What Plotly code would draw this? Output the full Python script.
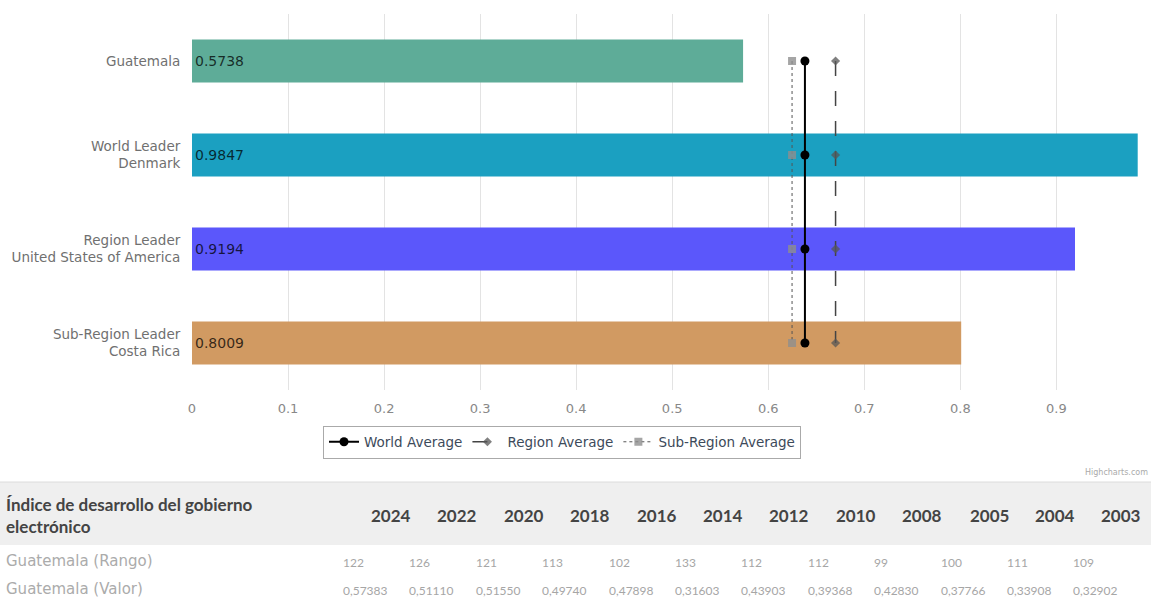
import plotly.graph_objects as go

# ---- data ----
categories = ["Guatemala", "World Leader<br>Denmark", "Region Leader<br>United States of America",
              "Sub-Region Leader<br>Costa Rica"]
bar_values = [0.5738, 0.9847, 0.9194, 0.8009]
bar_colors = ["#5eac98", "#1ba0c1", "#5b57fb", "#d19a62"]

world_avg = [0.6382, 0.6382, 0.6382, 0.6382]
region_avg = [0.6701, 0.6701, 0.6701, 0.6701]
subregion_avg = [0.6248, 0.6248, 0.6248, 0.6248]

table_title = "Índice de desarrollo del gobierno<br>electrónico"
years = ["2024", "2022", "2020", "2018", "2016", "2014", "2012", "2010", "2008", "2005", "2004", "2003"]
rank_label = "Guatemala (Rango)"
ranks = ["122", "126", "121", "113", "102", "133", "112", "112", "99", "100", "111", "109"]
value_label = "Guatemala (Valor)"
values = ["0,57383", "0,51110", "0,51550", "0,49740", "0,47898", "0,31603", "0,43903",
          "0,39368", "0,42830", "0,37766", "0,33908", "0,32902"]

# ---- geometry helpers (pixel -> paper) ----
L, R, T, B = 192, 1138, 14, 390
W, H = 1151, 609


def px_x(px):
    return (px - L) / (R - L)


def px_y(py):
    return (B - py) / (B - T)


fig = go.Figure()

fig.add_trace(go.Bar(
    y=categories, x=bar_values, orientation="h",
    marker=dict(color=bar_colors, line=dict(width=0)),
    width=0.46,
    text=[f"{v:.4f}" for v in bar_values],
    textposition="inside", insidetextanchor="start",
    textfont=dict(family="DejaVu Sans", size=14, color="rgba(0,0,0,0.75)"),
    showlegend=False, hoverinfo="skip", cliponaxis=False,
))

fig.add_trace(go.Scatter(
    y=categories, x=world_avg, mode="lines+markers", name="World Average",
    line=dict(color="#000000", width=2),
    marker=dict(symbol="circle", size=9, color="#000000"),
))
fig.add_trace(go.Scatter(
    y=categories, x=region_avg, mode="lines+markers", name="Region Average",
    line=dict(color="#444444", width=1.5, dash="longdash"),
    marker=dict(symbol="diamond", size=7, color="#555555", opacity=0.75),
))
fig.add_trace(go.Scatter(
    y=categories, x=subregion_avg, mode="lines+markers", name="Sub-Region Average",
    line=dict(color="#555555", width=1, dash="dot"),
    marker=dict(symbol="square", size=8, color="#8f8f8f", opacity=0.8),
))

shapes = []
annotations = []

# table header band
shapes.append(dict(type="rect", xref="paper", yref="paper",
                   x0=px_x(0), x1=px_x(W), y0=px_y(545), y1=px_y(482),
                   fillcolor="#efefef", line=dict(width=0), layer="below"))
shapes.append(dict(type="line", xref="paper", yref="paper",
                   x0=px_x(0), x1=px_x(W), y0=px_y(482), y1=px_y(482),
                   line=dict(color="#dcdcdc", width=1)))

annotations.append(dict(xref="paper", yref="paper", x=px_x(4), y=px_y(515),
                        text="<b>" + table_title + "</b>", showarrow=False,
                        xanchor="left", yanchor="middle", align="left",
                        font=dict(family="Lato", size=17, color="#444444")))

col0, col_step = 341, 66.4
for i, yr in enumerate(years):
    annotations.append(dict(xref="paper", yref="paper", x=px_x(413 + col_step * i), y=px_y(515),
                            text="<b>" + yr + "</b>", showarrow=False,
                            xanchor="right", yanchor="middle",
                            font=dict(family="Lato", size=17, color="#444444")))
    annotations.append(dict(xref="paper", yref="paper", x=px_x(col0 + col_step * i), y=px_y(562),
                            text=ranks[i], showarrow=False,
                            xanchor="left", yanchor="middle",
                            font=dict(family="Lato", size=12, color="#a6a6a6")))
    annotations.append(dict(xref="paper", yref="paper", x=px_x(col0 + col_step * i), y=px_y(590),
                            text=values[i], showarrow=False,
                            xanchor="left", yanchor="middle",
                            font=dict(family="Lato", size=12, color="#a6a6a6")))

annotations.append(dict(xref="paper", yref="paper", x=px_x(4), y=px_y(561),
                        text=rank_label, showarrow=False, xanchor="left", yanchor="middle",
                        font=dict(family="DejaVu Sans", size=15, color="#ababab")))
annotations.append(dict(xref="paper", yref="paper", x=px_x(4), y=px_y(589),
                        text=value_label, showarrow=False, xanchor="left", yanchor="middle",
                        font=dict(family="DejaVu Sans", size=15, color="#ababab")))

annotations.append(dict(xref="paper", yref="paper", x=px_x(1150), y=px_y(472),
                        text="Highcharts.com", showarrow=False, xanchor="right", yanchor="middle",
                        font=dict(family="DejaVu Sans", size=8, color="#aaaaaa")))

fig.update_layout(
    width=W, height=H,
    margin=dict(l=L, r=W - R, t=T, b=H - B),
    paper_bgcolor="white", plot_bgcolor="white",
    hovermode=False,
    xaxis=dict(range=[0, 0.985], dtick=0.1, tick0=0, showgrid=True, gridcolor="#e3e3e3",
               gridwidth=1, zeroline=False, showline=False,
               ticks="outside", ticklen=6, tickcolor="rgba(0,0,0,0)",
               tickfont=dict(family="DejaVu Sans", size=13, color="#888888")),
    yaxis=dict(categoryorder="array", categoryarray=categories, autorange="reversed",
               showgrid=False, zeroline=False, showline=False,
               ticks="outside", ticklen=8, tickcolor="rgba(0,0,0,0)",
               tickfont=dict(family="DejaVu Sans", size=13.5, color="#707070")),
    legend=dict(orientation="h", x=px_x(562), y=px_y(442), xanchor="center", yanchor="middle",
                bordercolor="#aaaaaa", borderwidth=1, bgcolor="white",
                font=dict(family="DejaVu Sans", size=13.5, color="#3d4a5a"),
                itemwidth=30, tracegroupgap=0),
    shapes=shapes, annotations=annotations,
    bargap=0.5,
)

fig.write_html("out.html", config={"displayModeBar": False},
               post_script="document.body.style.margin='0px';document.body.style.padding='0px';")
